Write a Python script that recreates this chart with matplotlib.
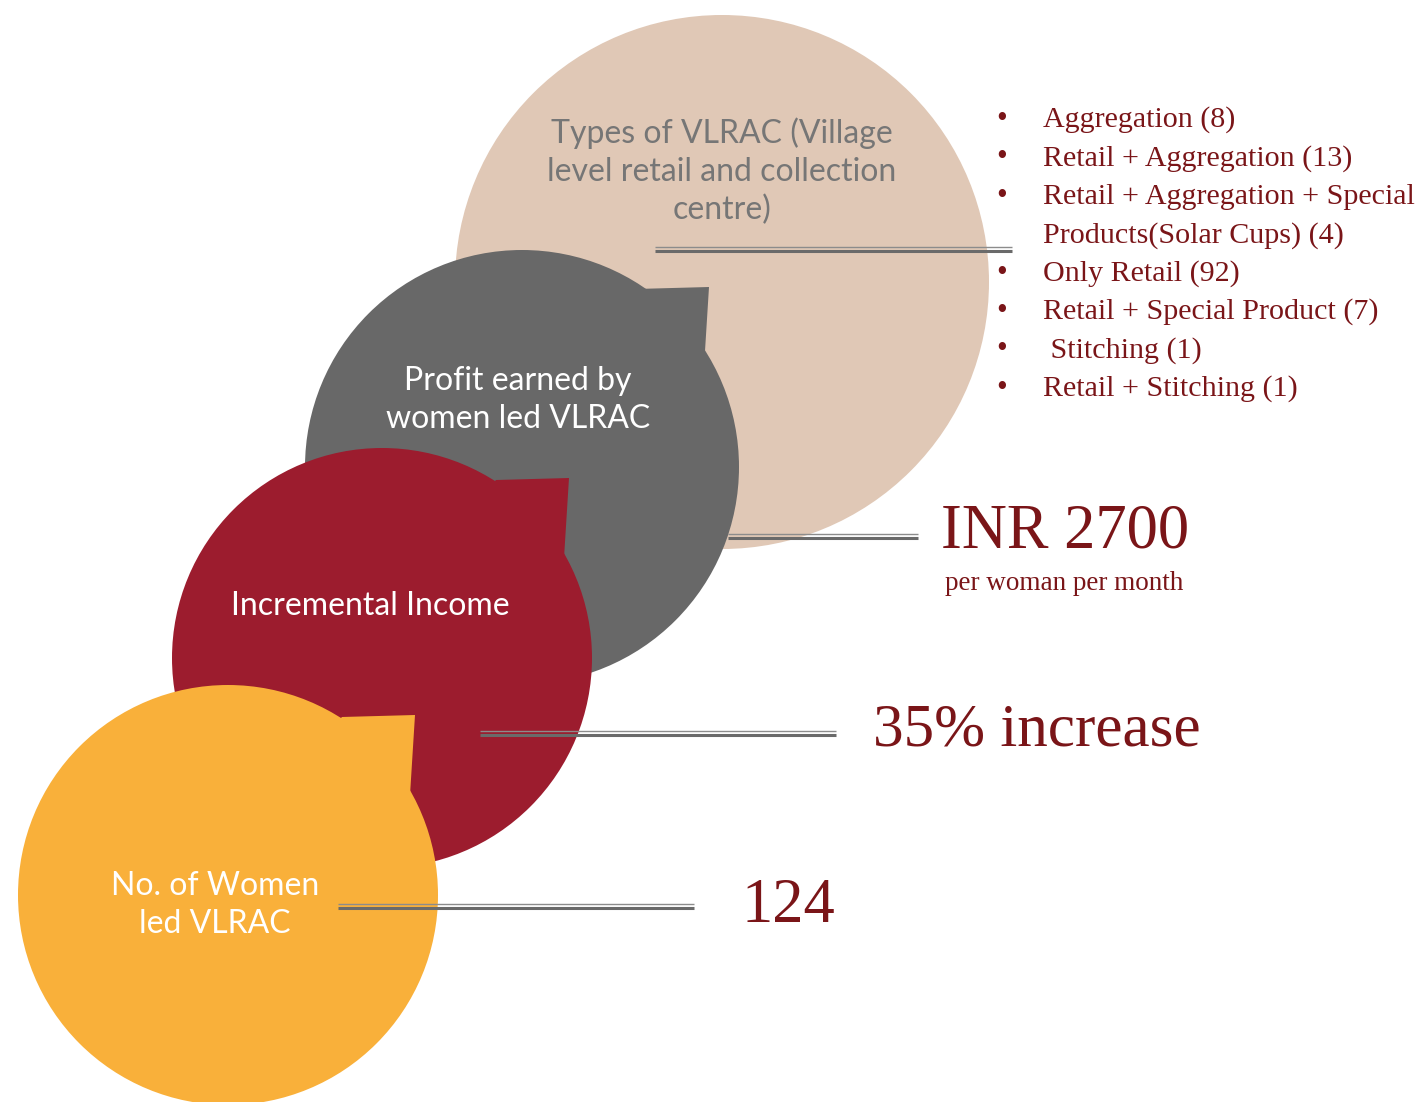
import matplotlib.pyplot as plt
from matplotlib.patches import Circle, Polygon

# circle labels, bottom-most circle last so it is drawn on top
labels = ["Types of VLRAC (Village\nlevel retail and collection\ncentre)",
          "Profit earned by\nwomen led VLRAC",
          "Incremental Income",
          "No. of Women\nled VLRAC"]
values = ["", "INR 2700", "35% increase", "124"]
subtexts = ["", "per woman per month", "", ""]
colors = ["#E0C8B6", "#686868", "#9C1C2E", "#F9B03A"]
label_colors = ["#767676", "white", "white", "white"]

vlrac_types = ["Aggregation (8)",
               "Retail + Aggregation (13)",
               "Retail + Aggregation + Special\nProducts(Solar Cups) (4)",
               "Only Retail (92)",
               "Retail + Special Product (7)",
               " Stitching (1)",
               "Retail + Stitching (1)"]

# layout (pixel coordinates, y downwards)
centers = [(722, 282), (522, 467), (382, 658), (228, 895)]
radii = [267, 217, 210, 210]
label_pos = [(722, 171), (518, 400), (370, 606), (215, 905)]
connectors = [(655, 1012, 249), (728, 918, 536), (480, 836, 733), (338, 694, 906)]
value_pos = [None, (1065, 548), (1037, 745), (788, 922)]
value_sizes = [0, 45, 44, 45]
tail = [(114, -178), (187, -180), (182, -100), (40, -100)]

DARK_RED = "#7A1518"
SANS = ["Lato", "DejaVu Sans"]
SERIF = ["Liberation Serif", "DejaVu Serif"]

fig = plt.figure(figsize=(14.23, 11.02), dpi=100)
ax = fig.add_axes([0, 0, 1, 1])
ax.set_xlim(0, 1423)
ax.set_ylim(1102, 0)
ax.axis('off')

for i, (c, r, col) in enumerate(zip(centers, radii, colors)):
    z = 2 + i
    ax.add_patch(Circle(c, r, color=col, lw=0, zorder=z))
    if i > 0:
        pts = [(c[0] + dx, c[1] + dy) for dx, dy in tail]
        ax.add_patch(Polygon(pts, closed=True, color=col, lw=0, zorder=z))
    ax.text(*label_pos[i], labels[i], ha='center', va='center', color=label_colors[i],
            fontsize=23, family=SANS, linespacing=1.33, zorder=z)

# double connector lines
for x0, x1, y in connectors:
    ax.plot([x0, x1], [y - 2, y - 2], color="#8c8c8c", lw=1.0, zorder=10,
            solid_capstyle='butt')
    ax.plot([x0, x1], [y + 1.5, y + 1.5], color="#6a6a6a", lw=2.2, zorder=10,
            solid_capstyle='butt')

# big values
for i in range(1, 4):
    x, y = value_pos[i]
    ax.text(x, y, values[i], ha='center', va='baseline', color=DARK_RED,
            fontsize=value_sizes[i], family=SERIF, zorder=11)
    if subtexts[i]:
        ax.text(1064, 590, subtexts[i], ha='center', va='baseline', color=DARK_RED,
                fontsize=19.5, family=SERIF, zorder=11)

# bullet list of VLRAC types
row = 0
for item in vlrac_types:
    for k, line in enumerate(item.split("\n")):
        yb = 127 + row * 38.4
        if k == 0:
            ax.text(1002, yb, "\u2022", ha='center', va='baseline', color=DARK_RED,
                    fontsize=22, family=SERIF, zorder=11)
        ax.text(1043, yb, line, ha='left', va='baseline', color=DARK_RED,
                fontsize=21.6, family=SERIF, zorder=11)
        row += 1

fig.savefig("out.png", dpi=100)
